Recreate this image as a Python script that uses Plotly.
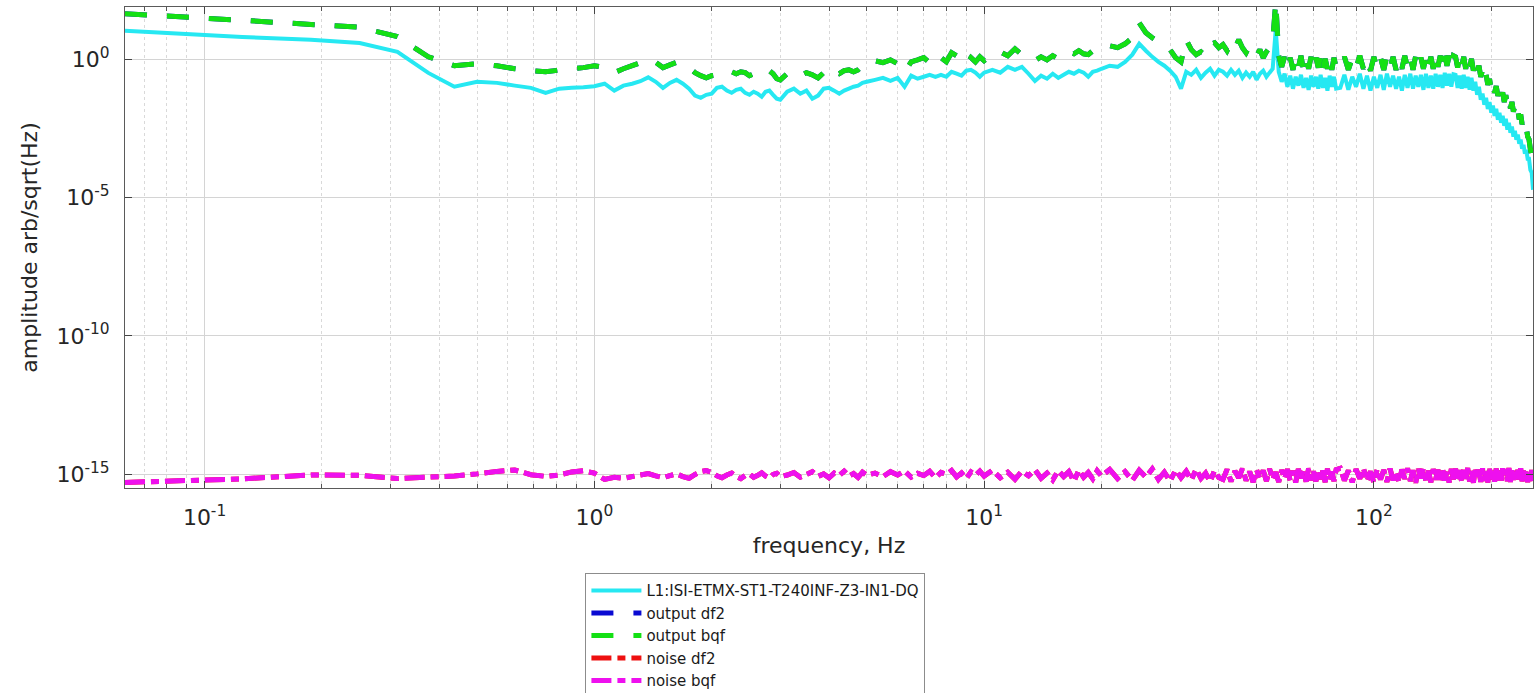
import plotly.graph_objects as go

# ---------------- data ----------------
freq_hz = [
    0.0625, 0.125, 0.1875, 0.25, 0.3125, 0.375, 0.4375, 0.5, 0.5625, 0.625, 0.6875, 0.75,
    0.8125, 0.875, 0.9375, 1.0, 1.0625, 1.125, 1.1875, 1.25, 1.3125, 1.375, 1.4375, 1.5,
    1.5625, 1.625, 1.6875, 1.75, 1.8125, 1.875, 1.9375, 2.0,
    2.0625, 2.125, 2.1875, 2.25, 2.3125, 2.375, 2.4375, 2.5, 2.5625, 2.625, 2.6875, 2.75,
    2.8125, 2.875, 2.9375, 3.0,
    3.125, 3.25, 3.375, 3.5, 3.625, 3.75, 3.875, 4.0, 4.125, 4.25, 4.375, 4.5, 4.625, 4.75,
    4.875, 5.0,
    5.25, 5.5, 5.75, 6.0, 6.25, 6.5, 6.75, 7.0, 7.25, 7.5, 7.75, 8.0, 8.25, 8.5, 8.75, 9.0,
    9.25, 9.5, 9.75, 10.0,
    10.5, 11.0, 11.5, 12.0, 12.5, 13.0, 13.5, 14.0, 14.5, 15.0, 15.5, 16.0, 16.5, 17.0, 17.5,
    18.0, 18.5, 19.0, 19.5, 20.0,
    21, 22, 23, 24, 25, 26, 27, 28, 29, 30, 31, 32, 33, 34, 35, 36, 37, 38, 39, 40,
    41, 42, 43, 44, 45, 46, 47, 48, 49, 50, 51, 52, 53, 54, 55, 56, 57, 58, 59, 60,
    61, 62, 63, 64, 65, 66, 67, 68, 69, 70, 71, 72, 73, 74, 75, 76, 77, 78, 79, 80,
    82, 84, 86, 88, 90, 92, 94, 96, 98, 100, 102, 104, 106, 108, 110, 112, 114, 116, 118, 120,
    122, 124, 126, 128, 130, 132, 134, 136, 138, 140, 142, 144, 146, 148, 150, 152, 154, 156,
    158, 160,
    162, 164, 166, 168, 170, 172, 174, 176, 178, 180, 182, 184, 186, 188, 190, 192, 194, 196,
    198, 200, 202, 204, 206, 208, 210, 212, 214, 216, 218, 220, 222, 224, 226, 228, 230, 232,
    234, 236, 238, 240, 242, 244, 246, 248, 250, 252, 254, 256,
]

# log10 of amplitude (arb/sqrt(Hz)) for each series
channel_log10 = [
    1.02, 0.80, 0.70, 0.58, 0.26, -0.50, -1.00, -0.82, -0.86, -0.96, -1.04, -1.22,
    -1.07, -1.04, -1.02, -0.98, -0.89, -1.14, -0.96, -0.89, -0.80, -0.66, -0.82, -1.04,
    -0.86, -0.75, -0.89, -1.07, -1.32, -1.40, -1.29, -1.25,
    -1.04, -1.00, -1.14, -1.22, -1.11, -1.07, -1.22, -1.29, -1.18, -1.25, -1.36, -1.18,
    -1.14, -1.29, -1.43, -1.47,
    -1.18, -1.07, -1.25, -1.14, -1.43, -1.32, -1.07, -1.04, -1.14, -1.25, -1.14, -1.07,
    -1.00, -0.96, -0.86, -0.82,
    -0.75, -0.68, -0.79, -0.68, -1.00, -0.60, -0.71, -0.64, -0.57, -0.64, -0.57, -0.64,
    -0.46, -0.53, -0.60, -0.42, -0.39, -0.49, -0.64, -0.49,
    -0.39, -0.49, -0.28, -0.39, -0.28, -0.53, -0.79, -0.60, -0.71, -0.53, -0.68, -0.57,
    -0.46, -0.53, -0.42, -0.49, -0.64, -0.46, -0.42, -0.35,
    -0.24, -0.28, -0.10, 0.16, 0.55, 0.30, 0.08, -0.10, -0.24, -0.42, -0.64, -1.07,
    -0.46, -0.57, -0.39, -0.68, -0.49, -0.35, -0.60, -0.39,
    -0.46, -0.60, -0.39, -0.57, -0.42, -0.68, -0.49, -0.64,
    -0.46, -0.75, -0.53, -0.42, -0.64, -0.49, -0.35, 1.05,
    -0.46, -0.82, -0.53, -1.00, -0.60, -1.07, -0.64, -0.96,
    -0.57, -1.04, -0.68, -1.11, -0.60, -1.00, -0.64, -1.07,
    -0.57, -1.04, -0.68, -1.14, -0.60, -1.00, -0.64, -1.07,
    -1.04, -0.57, -1.11, -0.64, -1.00, -0.53, -1.07, -0.60,
    -1.14, -0.64, -1.04, -0.57, -1.11, -0.53, -1.00, -0.60,
    -1.07, -0.64, -1.14, -0.57, -1.04, -0.53, -1.07, -0.60,
    -1.00, -0.57, -1.11, -0.53, -1.04, -0.60, -1.07, -0.53,
    -1.00, -0.57, -1.04, -0.50, -0.96, -0.53, -1.00, -0.55,
    -0.57, -1.04, -0.60, -1.07, -0.57, -1.04, -0.64, -1.11,
    -0.68, -1.14, -0.82, -1.29, -1.00, -1.47, -1.25, -1.65,
    -1.40, -1.80, -1.55, -1.94, -1.68, -2.05, -1.80, -2.19,
    -1.94, -2.30, -2.05, -2.41, -2.16, -2.55, -2.30, -2.66,
    -2.44, -2.80, -2.59, -2.91, -2.73, -3.06, -2.91, -3.24,
    -3.10, -3.42, -3.28, -3.60, -3.60, -4.00, -4.10, -4.72,
]

output_log10 = [
    1.64, 1.40, 1.25, 1.15, 0.81, 0.08, -0.24, -0.17, -0.24, -0.35, -0.42, -0.46,
    -0.40, -0.35, -0.31, -0.24, -0.31, -0.49, -0.35, -0.24, -0.13, -0.01, -0.12, -0.31,
    -0.21, -0.12, -0.21, -0.31, -0.49, -0.60, -0.68, -0.60,
    -0.57, -0.49, -0.42, -0.46, -0.53, -0.46, -0.49, -0.60, -0.53, -0.49, -0.57, -0.49,
    -0.42, -0.53, -0.71, -0.75,
    -0.53, -0.46, -0.60, -0.49, -0.57, -0.68, -0.49, -0.31, -0.46, -0.53, -0.42, -0.39,
    -0.46, -0.39, -0.24, -0.10,
    -0.06, -0.13, -0.03, -0.17, -0.46, -0.10, -0.03, 0.05, -0.13, 0.16, 0.05, -0.10,
    0.23, 0.12, -0.03, -0.21, 0.05, -0.10, 0.08, -0.06,
    0.19, 0.26, 0.12, 0.37, 0.16, 0.01, -0.06, 0.08, -0.03, 0.12, 0.01, 0.16,
    0.26, 0.19, 0.30, 0.19, 0.16, 0.30, 0.37, 0.34,
    0.48, 0.41, 0.55, 0.77, 1.31, 0.95, 0.77, 0.62, 0.48, 0.34, 0.05, -0.10,
    0.70, 0.34, 0.16, 0.26, 0.12, 0.52, 0.59, 0.41,
    0.52, 0.30, 0.59, 0.37, 0.70, 0.41, 0.23, 0.48,
    0.30, 0.12, 0.34, 0.05, 0.26, 0.41, 0.62, 2.07,
    0.12, -0.28, 0.08, -0.35, 0.05, -0.39, 0.08, -0.31,
    0.12, -0.42, 0.01, -0.35, 0.08, -0.39, 0.05, -0.31,
    0.12, -0.42, 0.01, -0.35, 0.08, -0.39, 0.05, -0.31,
    -0.35, 0.08, -0.39, 0.05, -0.31, 0.12, -0.35, 0.01,
    -0.42, 0.08, -0.35, 0.05, -0.39, 0.12, -0.31, 0.08,
    -0.39, 0.01, -0.35, 0.12, -0.31, 0.08, -0.39, 0.12,
    -0.28, 0.05, -0.35, 0.12, -0.31, 0.08, -0.35, 0.16,
    -0.28, 0.12, -0.31, 0.16, -0.24, 0.12, -0.31, 0.12,
    0.08, -0.31, 0.12, -0.28, 0.08, -0.35, 0.05, -0.31,
    0.01, -0.42, -0.10, -0.49, -0.24, -0.64, -0.39, -0.78,
    -0.55, -0.93, -0.72, -1.11, -0.86, -1.22, -0.98, -1.33,
    -1.08, -1.44, -1.20, -1.55, -1.30, -1.65, -1.42, -1.78,
    -1.55, -1.90, -1.70, -2.02, -1.84, -2.18, -2.00, -2.35,
    -2.22, -2.55, -2.45, -2.80, -2.90, -3.25, -3.50, -3.95,
]

noise_log10 = [
    -15.29, -15.16, -15.02, -15.03, -15.15, -15.10, -15.06, -14.98, -14.89, -14.84, -15.01, -15.07,
    -15.02, -14.91, -14.87, -14.95, -15.18, -15.10, -15.14, -15.08, -15.02, -14.97, -15.05, -15.12,
    -15.04, -14.98, -15.08, -15.14, -15.00, -14.90, -14.86, -14.92,
    -15.05, -15.12, -15.02, -14.95, -15.08, -15.15, -15.04, -14.98, -15.10, -15.03, -14.94, -15.06,
    -15.13, -15.00, -14.96, -15.08,
    -15.02, -14.93, -15.10, -15.00, -14.90, -15.07, -14.98, -15.12, -14.95, -15.04, -14.88, -15.06,
    -14.97, -15.11, -14.92, -15.03,
    -14.95, -15.08, -14.90, -15.02, -14.87, -15.10, -14.96, -15.04, -14.89, -15.12, -14.93, -15.00,
    -14.86, -15.09, -14.95, -15.15, -14.91, -15.03, -14.88, -15.06,
    -14.85, -15.12, -14.92, -15.18, -14.88, -15.05, -14.83, -15.14, -14.95, -15.20, -14.86, -15.08,
    -14.90, -15.25, -14.84, -15.10, -14.93, -15.16, -14.87, -15.06,
    -14.82, -15.15, -14.90, -15.22, -14.85, -15.10, -14.80, -15.18, -14.92, -15.24, -14.84, -15.12,
    -14.88, -15.20, -14.81, -15.14, -14.95, -15.26, -14.86, -15.11,
    -15.18, -14.82, -15.25, -14.88, -15.12, -14.79, -15.22, -14.90,
    -15.28, -14.83, -15.15, -14.86, -15.24, -14.80, -15.19, -14.92,
    -15.27, -14.84, -15.16, -14.81, -15.23, -14.87, -15.29, -14.80,
    -15.14, -14.85, -15.26, -14.78, -15.20, -14.89, -15.25, -14.82,
    -15.17, -14.86, -15.28, -14.79, -15.21, -14.90, -15.24, -14.83,
    -14.78, -15.22, -14.86, -15.28, -14.81, -15.15, -14.77, -15.25,
    -14.89, -15.30, -14.80, -15.18, -14.84, -15.27, -14.79, -15.21,
    -14.88, -15.29, -14.82, -15.16, -14.78, -15.24, -14.85, -15.30,
    -14.80, -15.14, -14.76, -15.26, -14.87, -15.28, -14.81, -15.19,
    -14.83, -15.27, -14.78, -15.22, -14.88, -15.29, -14.80, -15.17,
    -14.79, -15.22, -14.85, -15.28, -14.80, -15.16, -14.77, -15.25,
    -14.87, -15.30, -14.81, -15.19, -14.83, -15.27, -14.78, -15.23,
    -14.88, -15.29, -14.80, -15.18, -14.84, -15.26, -14.79, -15.21,
    -14.86, -15.28, -14.78, -15.15, -14.82, -15.24, -14.77, -15.27,
    -14.85, -15.20, -14.80, -15.29, -14.83, -15.17, -14.78, -15.25,
    -14.86, -15.22, -14.79, -15.28, -14.81, -15.19, -14.84, -15.24,
]

series_names = [
    "L1:ISI-ETMX-ST1-T240INF-Z3-IN1-DQ",
    "output df2",
    "output bqf",
    "noise df2",
    "noise bqf",
]

x_tick_vals = [0.1, 1, 10, 100]
x_tick_text = ["10<sup>-1</sup>", "10<sup>0</sup>", "10<sup>1</sup>", "10<sup>2</sup>"]
x_minor_vals = [0.07, 0.08, 0.09, 0.2, 0.3, 0.4, 0.5, 0.6, 0.7, 0.8, 0.9,
                2, 3, 4, 5, 6, 7, 8, 9, 20, 30, 40, 50, 60, 70, 80, 90, 200]
y_tick_vals = [1e-15, 1e-10, 1e-5, 1e0]
y_tick_text = ["10<sup>-15</sup>", "10<sup>-10</sup>", "10<sup>-5</sup>", "10<sup>0</sup>"]

assert len(freq_hz) == len(channel_log10) == len(output_log10) == len(noise_log10), (
    len(freq_hz), len(channel_log10), len(output_log10), len(noise_log10))


def to_amp(logs):
    return [10 ** v for v in logs]


channel_amp = to_amp(channel_log10)
output_amp = to_amp(output_log10)
noise_amp = to_amp(noise_log10)

# ---------------- figure ----------------
FONT = "DejaVu Sans"
OUT_DASH = "22px,20px"
NOISE_DASH = "20px,6px,8px,6px"

fig = go.Figure()
fig.add_trace(go.Scatter(x=freq_hz, y=channel_amp, name=series_names[0], mode="lines",
                         line=dict(color="#26E8F2", width=4, simplify=False)))
fig.add_trace(go.Scatter(x=freq_hz, y=output_amp, name=series_names[1], mode="lines",
                         line=dict(color="#0A0AD2", width=5, dash=OUT_DASH, simplify=False)))
fig.add_trace(go.Scatter(x=freq_hz, y=output_amp, name=series_names[2], mode="lines",
                         line=dict(color="#14E014", width=5, dash=OUT_DASH, simplify=False)))
fig.add_trace(go.Scatter(x=freq_hz, y=noise_amp, name=series_names[3], mode="lines",
                         line=dict(color="#EE1010", width=5, dash=NOISE_DASH, simplify=False)))
fig.add_trace(go.Scatter(x=freq_hz, y=noise_amp, name=series_names[4], mode="lines",
                         line=dict(color="#EE10EE", width=5, dash=NOISE_DASH, simplify=False)))

axis_common = dict(
    showline=True, linecolor="#5a5a5a", linewidth=1, mirror="ticks",
    ticks="inside", tickcolor="#444444", ticklen=7, tickwidth=1,
    showgrid=True, gridcolor="#d4d4d4", gridwidth=1, zeroline=False,
    tickfont=dict(family=FONT, size=22, color="#262626"),
)

fig.update_layout(
    width=1537, height=693,
    margin=dict(l=125, r=4, t=7, b=205, autoexpand=False),
    paper_bgcolor="white", plot_bgcolor="white",
    font=dict(family=FONT, color="#262626"),
    showlegend=True,
    legend=dict(
        x=0.327, y=-0.177, xanchor="left", yanchor="top",
        bgcolor="white", bordercolor="#8c8c8c", borderwidth=1,
        font=dict(family=FONT, size=15, color="#1a1a1a"),
        itemwidth=50, tracegroupgap=0,
    ),
    xaxis=dict(
        type="log", range=[-1.2041, 2.4082],
        tickmode="array", tickvals=x_tick_vals, ticktext=x_tick_text,
        ticklabelstandoff=10,
        minor=dict(tickmode="array", tickvals=x_minor_vals, ticks="inside", ticklen=4,
                   tickcolor="#555555", showgrid=True, gridcolor="#d9d9d9", griddash="dot"),
        title=dict(text="frequency, Hz", font=dict(family=FONT, size=22, color="#262626"),
                   standoff=8),
        **axis_common,
    ),
    yaxis=dict(
        type="log", range=[-15.49, 1.88],
        tickmode="array", tickvals=y_tick_vals, ticktext=y_tick_text,
        ticklabelstandoff=10,
        title=dict(text="amplitude arb/sqrt(Hz)", font=dict(family=FONT, size=22, color="#262626"),
                   standoff=12),
        **axis_common,
    ),
)

fig.write_html(
    "out.html",
    config={"displayModeBar": False},
    post_script="document.body.style.margin='0px';document.body.style.overflow='hidden';",
)
